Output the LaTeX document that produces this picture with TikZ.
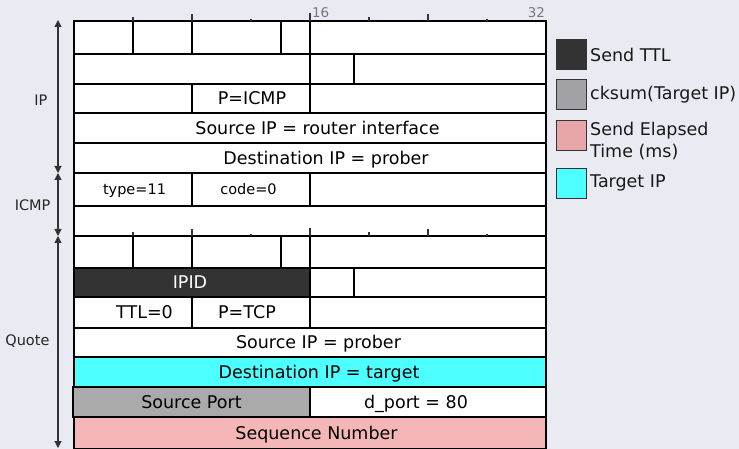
\documentclass[tikz,border=0pt]{standalone}
\usepackage{fontspec}
\setmainfont{DejaVu Sans}
\usetikzlibrary{arrows.meta}
\definecolor{bg}{HTML}{EAEAF2}
\definecolor{darkf}{HTML}{333333}
\definecolor{grayf}{HTML}{AAAAAA}
\definecolor{cyanf}{HTML}{4DFFFF}
\definecolor{pinkf}{HTML}{F4B6B6}
\definecolor{lgray}{HTML}{A2A2A6}
\definecolor{lpink}{HTML}{E8A6AA}
\definecolor{tickc}{HTML}{333333}
\definecolor{ticklab}{HTML}{777777}
\newcommand\bigf{\fontsize{17.5}{21.5}\selectfont}
\newcommand\smallf{\fontsize{14.5}{17}\selectfont}
\newcommand\tickf{\fontsize{13.4}{15}\selectfont}
% name, x1, x2, y1, y2, options, text, text centre x
\newcommand\pktfield[8]{%
  \node[cell,minimum width={(#3-#2)*1pt},minimum height={(#5-#4)*1pt},#6] (#1) at (#2,#4) {};
  \node[celltext,#6] (#1-t) at (#8,{(#4+#5)/2}) {#7};}
\tikzset{
  cell/.style={draw=black, line width=1.3pt, fill=white, inner sep=0pt, outer sep=0pt, anchor=north west, font=\bigf, text=black},
  celltext/.style={draw=none, fill=none, inner sep=0pt, outer sep=0pt, anchor=center, font=\bigf, text height=12.7pt, text depth=0pt},
  small/.style={font=\smallf, text height=10.6pt},
  tickmark/.style={draw=tickc, line width=1.1pt},
  span/.style={draw=darkf, line width=1.1pt, {Triangle[width=7pt,length=7pt]}-{Triangle[width=7pt,length=7pt]}},
  spanlab/.style={anchor=east, font=\smallf, text=black!85},
  legbox/.style={draw=darkf, line width=1pt, minimum width=30pt, minimum height=30pt, inner sep=0pt, outer sep=0pt, anchor=north west},
  leglab/.style={anchor=west, font=\bigf, text=black!90, inner sep=0pt, align=left},
}
\begin{document}
\begin{tikzpicture}[x=1pt,y=-1pt]
\useasboundingbox (0,0) rectangle (739,449);
\fill[bg] (0,0) rectangle (739,449);
% ---- outer IP header
\pktfield{ver}{74}{133}{21}{54}{}{}{103}
\pktfield{ihl}{133}{192}{21}{54}{}{}{162}
\pktfield{dscp}{192}{281}{21}{54}{}{}{236}
\pktfield{ecn}{281}{310}{21}{54}{}{}{295}
\pktfield{tlen}{310}{546}{21}{54}{}{}{428}
\pktfield{ident}{74}{310}{54}{84}{}{}{192}
\pktfield{flags}{310}{354}{54}{84}{}{}{332}
\pktfield{frag}{354}{546}{54}{84}{}{}{450}
\pktfield{ttl}{74}{192}{84}{113}{}{}{133}
\pktfield{proto}{192}{310}{84}{113}{}{P=ICMP}{252}
\pktfield{cks}{310}{546}{84}{113}{}{}{428}
\pktfield{srcip}{74}{546}{113}{143}{}{Source IP = router interface}{317.5}
\pktfield{dstip}{74}{546}{143}{173}{}{Destination IP = prober}{326}
% ---- ICMP
\pktfield{type}{74}{192}{173}{206}{small}{type=11}{134.5}
\pktfield{code}{192}{310}{173}{206}{small}{code=0}{248.5}
\pktfield{icks}{310}{546}{173}{206}{}{}{428}
\pktfield{rest}{74}{546}{206}{236}{}{}{310}
% ---- Quote
\pktfield{qver}{74}{133}{236}{268}{}{}{103}
\pktfield{qihl}{133}{192}{236}{268}{}{}{162}
\pktfield{qdscp}{192}{281}{236}{268}{}{}{236}
\pktfield{qecn}{281}{310}{236}{268}{}{}{295}
\pktfield{qtlen}{310}{546}{236}{268}{}{}{428}
\pktfield{ipid}{74}{310}{268}{297}{fill=darkf,text=white}{IPID}{190}
\pktfield{qflags}{310}{354}{268}{297}{}{}{332}
\pktfield{qfrag}{354}{546}{268}{297}{}{}{450}
\pktfield{qttl}{74}{192}{297}{328}{}{TTL=0}{144.5}
\pktfield{qproto}{192}{310}{297}{328}{}{P=TCP}{247}
\pktfield{qcks}{310}{546}{297}{328}{}{}{428}
\pktfield{qsrc}{74}{546}{328}{357}{}{Source IP = prober}{318.5}
\pktfield{qdst}{74}{546}{357}{387}{fill=cyanf}{Destination IP = target}{319}
\pktfield{dport}{310}{546}{387}{417}{}{d\_port = 80}{416}
\pktfield{sport}{73}{310}{387}{417}{fill=grayf}{Source Port}{191.5}
\pktfield{seq}{74}{546}{417}{449}{fill=pinkf}{Sequence Number}{316.5}
% ---- bit ticks
\foreach \yy in {21,236}{
  \foreach \b/\l in {4/4,8/7,12/2,16/8,20/4,24/7,28/2}{
    \draw[tickmark] ({74+14.75*\b},\yy) -- ++(0,-\l);
  }
}
\node[anchor=base west, font=\tickf, text=ticklab, inner sep=0pt] (lab16) at (312,18) {16};
\node[anchor=base east, font=\tickf, text=ticklab, inner sep=0pt] (lab32) at (545,18) {32};
% ---- spans
\coordinate (s0) at (58,20);
\coordinate (s1) at (58,173);
\coordinate (s2) at (58,236);
\coordinate (s3) at (58,448);
\draw[span] (s0) -- (s1);
\draw[span] (s1) -- (s2);
\draw[span] (s2) -- (s3);
\node[spanlab] (lip) at (51,100) {IP};
\node[spanlab] (licmp) at (54,205) {ICMP};
\node[spanlab] (lquote) at (53,341) {Quote};
% ---- legend
\node[legbox, fill=darkf] (k1) at (556,40) {};
\node[legbox, fill=lgray] (k2) at (556,80) {};
\node[legbox, fill=lpink] (k3) at (556,121) {};
\node[legbox, fill=cyanf] (k4) at (556,169) {};
\node[leglab] (t1) at (590,55) {Send TTL};
\node[leglab] (t2) at (590,95) {cksum(Target IP)};
\node[leglab] (t3) at (590,141) {Send Elapsed\\Time (ms)};
\node[leglab] (t4) at (590,183) {Target IP};
\end{tikzpicture}
\end{document}
